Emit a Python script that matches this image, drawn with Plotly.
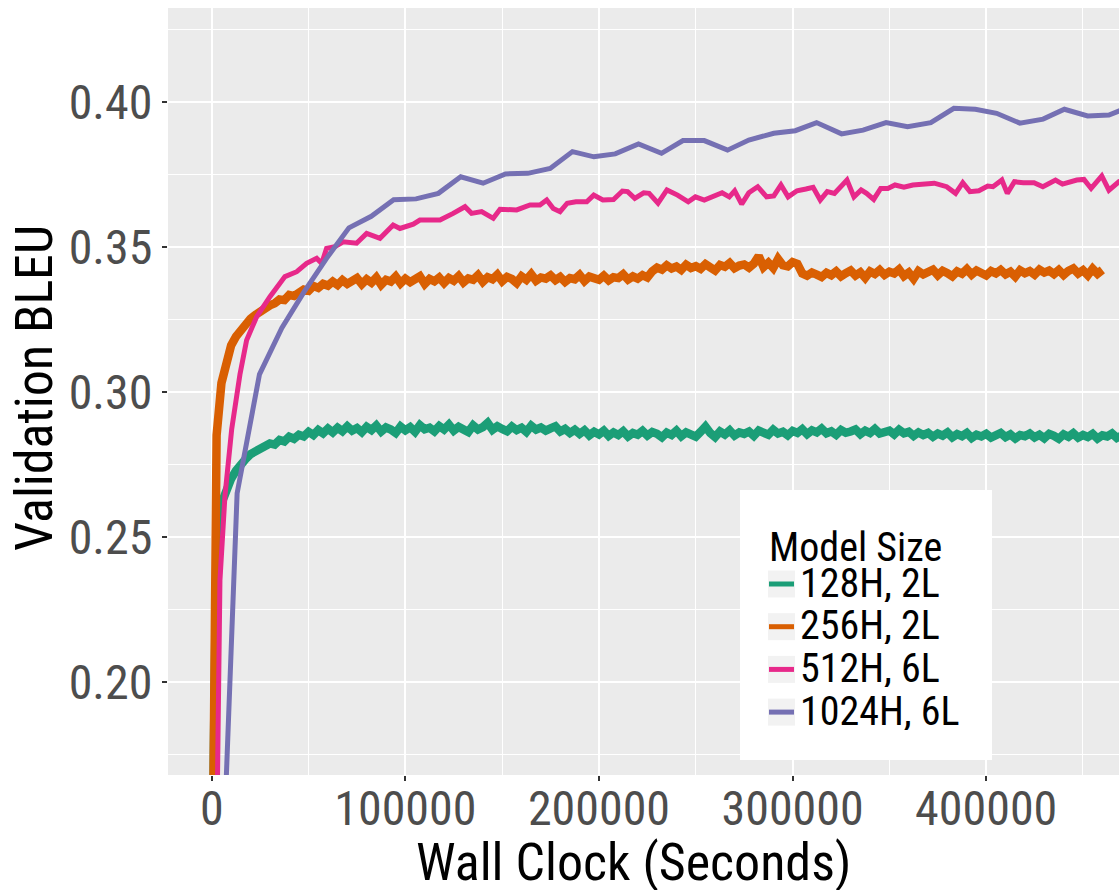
import plotly.graph_objects as go

# ---------------- data ----------------
series_names = ["128H, 2L", "256H, 2L", "512H, 6L", "1024H, 6L"]
series_colors = ["#1B9E77", "#D95F02", "#E7298A", "#7570B3"]
legend_title = "Model Size"

x_tick_vals = [0, 100000, 200000, 300000, 400000]
y_tick_vals = [0.20, 0.25, 0.30, 0.35, 0.40]

# 128H, 2L (evaluated every 2500 s)
green_t = list(range(0, 472501, 2500))
green_bleu = [
    0.120, 0.250, 0.2615, 0.2668, 0.2700, 0.2728, 0.2752, 0.2768, 0.2785, 0.2795,
    0.2806, 0.2815, 0.2822, 0.2818, 0.2834, 0.2829, 0.2845, 0.2838, 0.2852, 0.2846,
    0.2862, 0.2851, 0.2868, 0.2857, 0.2873, 0.2860, 0.2876, 0.2864, 0.2881, 0.2866,
    0.2875, 0.2861, 0.2879, 0.2868, 0.2884, 0.2863, 0.2877, 0.2870, 0.2858, 0.2880,
    0.2867, 0.2878, 0.2862, 0.2885, 0.2871, 0.2876, 0.2864, 0.2882, 0.2870, 0.2887,
    0.2866, 0.2879, 0.2873, 0.2861, 0.2884, 0.2870, 0.2878, 0.2893, 0.2869, 0.2881,
    0.2872, 0.2864, 0.2880, 0.2868, 0.2876, 0.2862, 0.2883, 0.2870, 0.2877, 0.2866,
    0.2874, 0.2881, 0.2863, 0.2872, 0.2858, 0.2869, 0.2855, 0.2867, 0.2850, 0.2862,
    0.2853, 0.2866, 0.2848, 0.2860, 0.2851, 0.2864, 0.2846, 0.2858, 0.2852, 0.2865,
    0.2849, 0.2861, 0.2855, 0.2843, 0.2859, 0.2851, 0.2866, 0.2847, 0.2860, 0.2854,
    0.2845, 0.2862, 0.2880, 0.2858, 0.2844, 0.2863, 0.2853, 0.2867, 0.2849, 0.2860,
    0.2855, 0.2863, 0.2848, 0.2866, 0.2857, 0.2852, 0.2869, 0.2856, 0.2862, 0.2850,
    0.2865, 0.2858, 0.2871, 0.2854, 0.2867, 0.2860, 0.2873, 0.2857, 0.2864, 0.2852,
    0.2868, 0.2859, 0.2863, 0.2870, 0.2854, 0.2866, 0.2858, 0.2872, 0.2856, 0.2861,
    0.2866, 0.2853, 0.2869, 0.2857, 0.2862, 0.2848, 0.2860, 0.2851, 0.2858, 0.2845,
    0.2856, 0.2849, 0.2860, 0.2843, 0.2854, 0.2847, 0.2858, 0.2841, 0.2852, 0.2846,
    0.2855, 0.2842, 0.2850, 0.2858, 0.2844, 0.2853, 0.2839, 0.2851, 0.2847, 0.2856,
    0.2843, 0.2852, 0.2840, 0.2855, 0.2848, 0.2838, 0.2853, 0.2845, 0.2857, 0.2842,
    0.2851, 0.2844, 0.2855, 0.2839, 0.2850, 0.2846, 0.2856, 0.2841, 0.2849, 0.2853,
]

# 256H, 2L (evaluated every 2500 s)
orange_t = list(range(0, 460001, 2500))
orange_bleu = [
    0.100, 0.285, 0.303, 0.311, 0.316, 0.319, 0.3215, 0.3238, 0.3252, 0.3265,
    0.3279, 0.3288, 0.3298, 0.3305, 0.3318, 0.3316, 0.3334, 0.3330, 0.3345, 0.3352,
    0.3348, 0.3365, 0.3358, 0.3372, 0.3366, 0.3380, 0.3368, 0.3385, 0.3372, 0.3380,
    0.3392, 0.3371, 0.3388, 0.3376, 0.3394, 0.3369, 0.3386, 0.3380, 0.3397, 0.3374,
    0.3390, 0.3378, 0.3385, 0.3398, 0.3372, 0.3389, 0.3381, 0.3394, 0.3375, 0.3392,
    0.3383, 0.3399, 0.3377, 0.3391, 0.3386, 0.3402, 0.3379, 0.3395, 0.3388, 0.3404,
    0.3381, 0.3396, 0.3389, 0.3375, 0.3398, 0.3386, 0.3405, 0.3383, 0.3394, 0.3390,
    0.3401, 0.3385, 0.3396, 0.3379, 0.3392, 0.3388, 0.3403, 0.3382, 0.3397, 0.3391,
    0.3386, 0.3400, 0.3384, 0.3395, 0.3392, 0.3405, 0.3387, 0.3398, 0.3390, 0.3402,
    0.3394, 0.3415, 0.3428, 0.3421, 0.3436, 0.3425, 0.3432, 0.3420, 0.3438, 0.3427,
    0.3433, 0.3424, 0.3440, 0.3429, 0.3418, 0.3437, 0.3431, 0.3444, 0.3426, 0.3435,
    0.3439, 0.3428, 0.3442, 0.3468, 0.3430, 0.3445, 0.3427, 0.3458, 0.3436, 0.3432,
    0.3447, 0.3441, 0.3408, 0.3400, 0.3411, 0.3404, 0.3396, 0.3410, 0.3402, 0.3415,
    0.3398, 0.3409, 0.3418, 0.3401, 0.3412, 0.3393, 0.3415, 0.3406, 0.3420, 0.3403,
    0.3414, 0.3408, 0.3422, 0.3399, 0.3411, 0.3390, 0.3416, 0.3405, 0.3413, 0.3421,
    0.3402, 0.3417, 0.3409, 0.3398, 0.3415, 0.3407, 0.3423, 0.3404, 0.3418, 0.3410,
    0.3401, 0.3416, 0.3408, 0.3420, 0.3405, 0.3414, 0.3397, 0.3419, 0.3409, 0.3416,
    0.3404, 0.3421, 0.3411, 0.3418, 0.3406, 0.3420, 0.3403, 0.3417, 0.3425, 0.3408,
    0.3419, 0.3402, 0.3424, 0.3407, 0.3420,
]

# 512H, 6L
pink_t = [
    1000, 4230, 6800, 10280, 14570, 18000, 23200, 30060, 37800, 43900,
    49000, 54200, 56800, 59300, 63600, 67900, 74800, 80000, 86900, 93700,
    97200, 104100, 107500, 117900, 124700, 130800, 134200, 139400, 145400, 148900,
    157500, 164400, 169500, 173000, 176400, 179900, 183600, 188100, 193700, 197300,
    202000, 207500, 212100, 214800, 218500, 223100, 225900, 230500, 235100, 240600,
    246100, 249800, 254400, 259000, 263600, 267300, 270100, 273700, 277400, 282000,
    286600, 290300, 294000, 297700, 302300, 306900, 310600, 314300, 317900, 321600,
    325300, 328100, 331700, 335400, 338200, 341900, 345500, 349200, 352900, 357500,
    362100, 365800, 373200, 379600, 384200, 387900, 391600, 396200, 400800, 403500,
    408100, 410900, 414600, 419200, 424700, 429300, 435800, 439400, 443100, 446800,
    450500, 454200, 459700, 463400, 468500, 472000,
]
pink_bleu = [
    0.060, 0.235, 0.264, 0.287, 0.306, 0.3178, 0.3259, 0.3328, 0.3397, 0.3414,
    0.3443, 0.3460, 0.3443, 0.3494, 0.3500, 0.3517, 0.3512, 0.3546, 0.3529, 0.3575,
    0.3563, 0.3578, 0.3592, 0.3592, 0.3615, 0.3638, 0.3615, 0.3621, 0.3598, 0.3629,
    0.3627, 0.3644, 0.3644, 0.3661, 0.3632, 0.3621, 0.3650, 0.3655, 0.3655, 0.3678,
    0.3661, 0.3663, 0.3692, 0.3690, 0.3667, 0.3686, 0.3684, 0.3650, 0.3696, 0.3678,
    0.3655, 0.3672, 0.3661, 0.3672, 0.3686, 0.3672, 0.3693, 0.3647, 0.3686, 0.3707,
    0.3672, 0.3675, 0.3713, 0.3672, 0.3693, 0.3699, 0.3705, 0.3661, 0.3690, 0.3684,
    0.3707, 0.3730, 0.3672, 0.3696, 0.3684, 0.3663, 0.3701, 0.3701, 0.3713, 0.3705,
    0.3713, 0.3716, 0.3719, 0.3707, 0.3684, 0.3721, 0.3690, 0.3693, 0.3709, 0.3707,
    0.3730, 0.3684, 0.3724, 0.3721, 0.3721, 0.3707, 0.3730, 0.3716, 0.3724, 0.3730,
    0.3732, 0.3701, 0.3744, 0.3695, 0.3724, 0.3718,
]

# 1024H, 6L
purple_t = [
    1564, 13100, 24650, 36200, 47750, 59300, 70850, 82400, 93950, 105500,
    117050, 128600, 140150, 151700, 163250, 174800, 186300, 197400, 208400, 220400,
    232300, 243400, 254400, 266400, 277400, 290300, 301400, 312400, 325300, 336400,
    348300, 359400, 371400, 383300, 394400, 405400, 417400, 429400, 440400, 452400,
    463400, 475000,
]
purple_bleu = [
    0.063, 0.265, 0.306, 0.322, 0.3345, 0.346, 0.3565, 0.3605, 0.3662, 0.3665,
    0.3684, 0.3741, 0.3719, 0.3751, 0.3753, 0.3770, 0.3828, 0.3810, 0.3820, 0.3854,
    0.3822, 0.3866, 0.3866, 0.3833, 0.3868, 0.3891, 0.3900, 0.3928, 0.3889, 0.3902,
    0.3928, 0.3914, 0.3928, 0.3977, 0.3974, 0.3960, 0.3926, 0.3940, 0.3974, 0.3951,
    0.3954, 0.3985,
]

# ---------------- figure ----------------
FONT = "Roboto Condensed, Liberation Sans Narrow, Roboto, sans-serif"
W, H = 1119, 891
ML, MR, MT, MB = 168, 0, 8, 116
PW, PH = W - ML - MR, H - MT - MB


def px_x(p):
    return (p - ML) / PW


def px_y(p):
    return (H - MB - p) / PH


all_t = [green_t, orange_t, pink_t, purple_t]
all_y = [green_bleu, orange_bleu, pink_bleu, purple_bleu]
widths = [8.5, 8.5, 5, 5]

fig = go.Figure()
for name, col, t, y, w in zip(series_names, series_colors, all_t, all_y, widths):
    fig.add_trace(go.Scatter(x=t, y=y, mode="lines", name=name, showlegend=False,
                             line=dict(color=col, width=w)))

axis_common = dict(
    showgrid=True, gridcolor="white", gridwidth=2, zeroline=False, showline=False,
    ticks="outside", ticklen=5, tickwidth=2, tickcolor="#333333",
    tickfont=dict(family=FONT, size=48, color="#4D4D4D"),
)

fig.update_xaxes(range=[-22600, 468600], tickvals=x_tick_vals,
                 ticktext=[str(v) for v in x_tick_vals], ticklabelstandoff=-14,
                 minor=dict(dtick=50000, tick0=0, showgrid=True, gridcolor="white",
                            gridwidth=1, ticks=""),
                 **axis_common)
fig.update_yaxes(range=[0.1679, 0.4323], tickvals=y_tick_vals,
                 ticktext=["%.2f" % v for v in y_tick_vals], ticklabelstandoff=0,
                 minor=dict(dtick=0.025, tick0=0.175, showgrid=True, gridcolor="white",
                            gridwidth=1, ticks=""),
                 **axis_common)

# legend panel (drawn manually to match ggplot's legend box)
shapes = [dict(type="rect", xref="paper", yref="paper",
               x0=px_x(740), x1=px_x(992), y0=px_y(760), y1=px_y(490),
               fillcolor="white", line=dict(width=0), layer="above")]
annotations = [
    dict(text="Wall Clock (Seconds)", xref="paper", yref="paper",
         x=px_x(633), y=px_y(862), xanchor="center", yanchor="middle",
         height=56, valign="middle",
         showarrow=False, font=dict(family=FONT, size=52, color="black")),
    dict(text="Validation BLEU", xref="paper", yref="paper",
         x=px_x(34), y=px_y(388), xanchor="center", yanchor="middle",
         textangle=-90, showarrow=False,
         font=dict(family=FONT, size=52, color="black")),
    dict(text=legend_title, xref="paper", yref="paper",
         x=px_x(767), y=px_y(547), xanchor="left", yanchor="middle",
         height=36, valign="middle",
         showarrow=False, font=dict(family=FONT, size=40, color="black")),
]
for i, (name, col) in enumerate(zip(series_names, series_colors)):
    yc = 584 + 42.7 * i
    shapes.append(dict(type="rect", xref="paper", yref="paper",
                       x0=px_x(768), x1=px_x(795), y0=px_y(yc + 13.5), y1=px_y(yc - 13.5),
                       fillcolor="#F2F2F2", line=dict(width=0), layer="above"))
    shapes.append(dict(type="line", xref="paper", yref="paper",
                       x0=px_x(769), x1=px_x(794), y0=px_y(yc), y1=px_y(yc),
                       line=dict(color=col, width=5), layer="above"))
    annotations.append(dict(text=name, xref="paper", yref="paper",
                            x=px_x(798), y=px_y(yc - 1.5), xanchor="left", yanchor="middle",
                            height=38, valign="middle",
                            showarrow=False,
                            font=dict(family=FONT, size=40, color="black")))

fig.update_layout(
    width=W, height=H,
    margin=dict(l=ML, r=MR, t=MT, b=MB, pad=0),
    plot_bgcolor="#EBEBEB", paper_bgcolor="white",
    font=dict(family=FONT, color="black"),
    showlegend=False,
    shapes=shapes,
    annotations=annotations,
)

fig.write_html("out.html", config={"displayModeBar": False},
               post_script="document.body.style.margin='0';document.body.style.overflow='hidden';")
